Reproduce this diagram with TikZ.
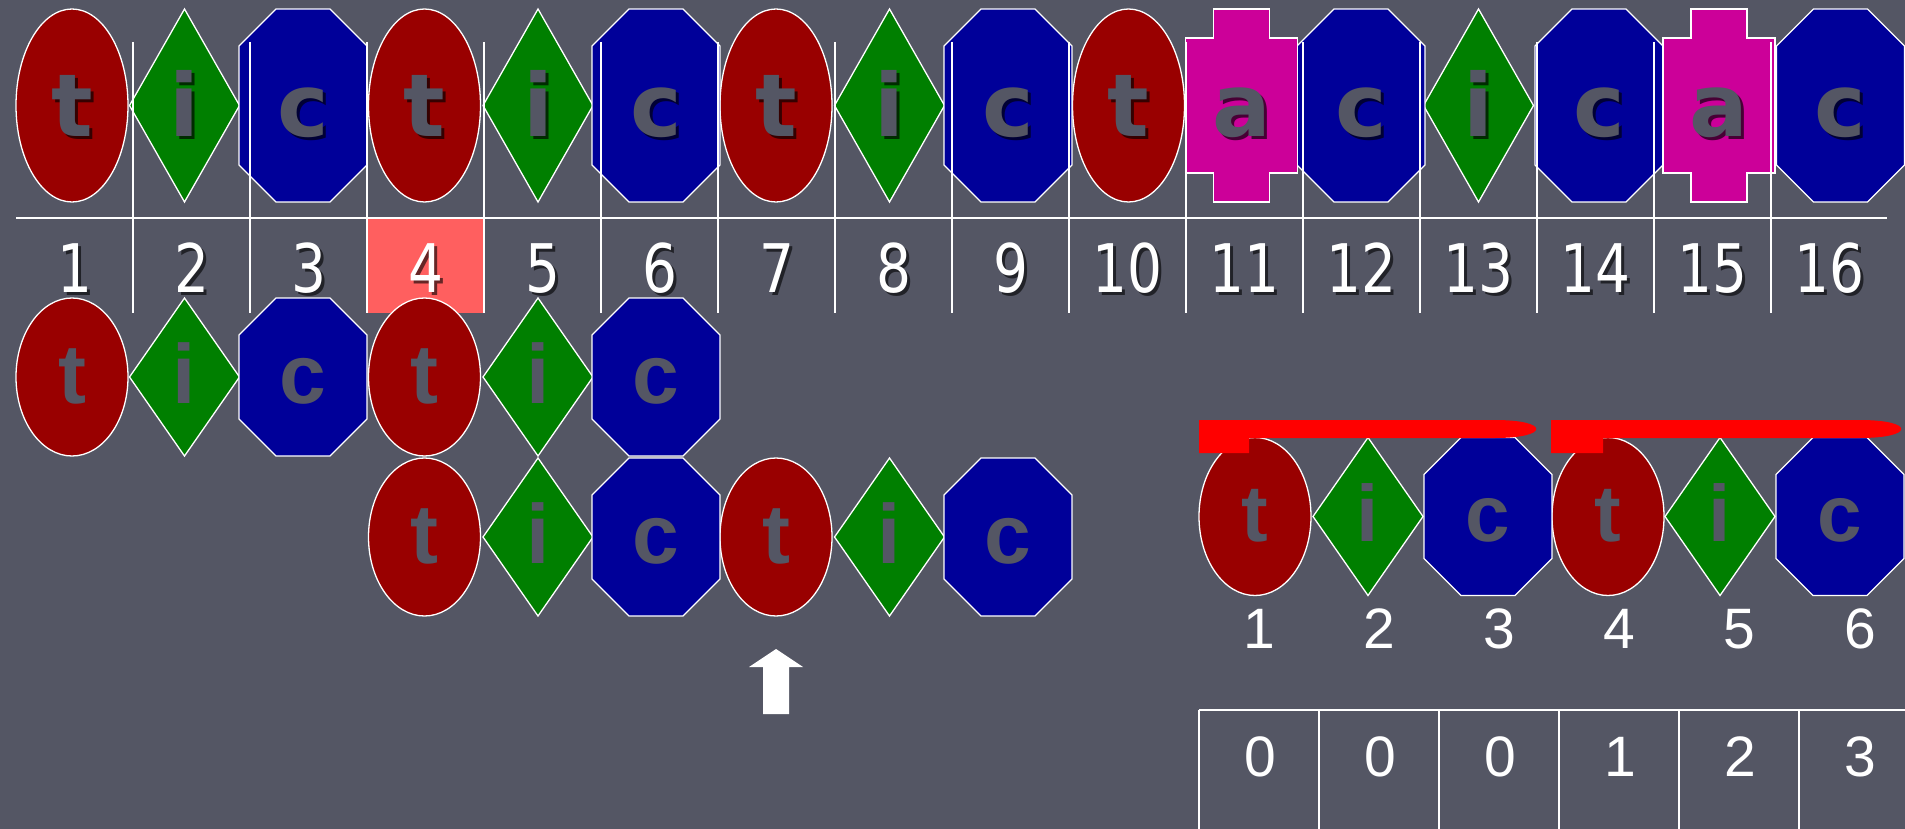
\documentclass[tikz,border=0pt]{standalone}
\usepackage{fontspec}
\setmainfont{Liberation Sans}
\newfontfamily\verdanaish{DejaVu Sans}
\newfontfamily\narrowish[FakeStretch=0.82]{DejaVu Sans}
\usetikzlibrary{shapes.geometric}
\definecolor{slate}{HTML}{545664}
\definecolor{tred}{HTML}{990000}
\definecolor{igreen}{HTML}{007F00}
\definecolor{cblue}{HTML}{000099}
\definecolor{amag}{HTML}{CC0099}
\definecolor{hilite}{HTML}{FF5F5F}
\definecolor{barred}{HTML}{FF0000}
\tikzset{
  shp/.style={draw=white, line width=1.3pt, inner sep=0pt, outer sep=0pt},
  tt/.style={shp, ellipse, fill=tred, minimum width=112pt},
  ii/.style={shp, diamond, fill=igreen, minimum width=110pt},
  cc/.style={rectangle, inner sep=0pt, outer sep=0pt, minimum width=128pt},
  aa/.style={rectangle, inner sep=0pt, outer sep=0pt, minimum width=112pt},
  tall/.style={minimum height=193pt},
  short/.style={minimum height=158pt},
  octo/.style={draw=white, line width=1.3pt, fill=cblue},
  cross/.style={draw=white, line width=1.3pt, fill=amag},
  toplet/.style={anchor=base, inner sep=0pt, text=slate, font=\verdanaish\bfseries\fontsize{87}{90}\selectfont},
  topshade/.style={toplet, text=black, opacity=0.65},
  midlet/.style={anchor=base, inner sep=0pt, text=slate, font=\bfseries\fontsize{84}{88}\selectfont},
  rowlet/.style={midlet, font=\bfseries\fontsize{80}{84}\selectfont},
  cellnum/.style={anchor=base, inner sep=0pt, text=white, font=\narrowish\fontsize{67}{70}\selectfont},
  cellshade/.style={cellnum, text=black, opacity=0.6},
  plainnum/.style={anchor=base, inner sep=0pt, text=white, font=\fontsize{57}{60}\selectfont},
  grid/.style={draw=white, line width=1.5pt},
  redbar/.style={fill=barred},
}
% octagon with 37pt corner cuts round a node
\newcommand{\octo}[1]{%
  \draw[octo] ([xshift=37pt]#1.north west) -- ([xshift=-37pt]#1.north east) -- ([yshift=-37pt]#1.north east)
    -- ([yshift=37pt]#1.south east) -- ([xshift=-37pt]#1.south east) -- ([xshift=37pt]#1.south west)
    -- ([yshift=37pt]#1.south west) -- ([yshift=-37pt]#1.north west) -- cycle;}
\def\toprow{72/tt/t, 184.5/ii/i, 303/cc/c, 424.5/tt/t, 538/ii/i, 656/cc/c, 776/tt/t, 889.5/ii/i,
  1008/cc/c, 1128.5/tt/t, 1241.5/aa/a, 1361/cc/c, 1478.5/ii/i, 1599/cc/c, 1719/aa/a, 1840.5/cc/c}
\def\rowa{72/tt/t, 184.5/ii/i, 303/cc/c, 424.5/tt/t, 538/ii/i, 656/cc/c}
\def\rowb{424.5/tt/t, 538/ii/i, 656/cc/c, 776/tt/t, 889.5/ii/i, 1008/cc/c}
\def\rowr{1255/tt/t, 1368/ii/i, 1488/cc/c, 1608/tt/t, 1720/ii/i, 1840/cc/c}

\begin{document}
\begin{tikzpicture}[x=1pt, y=-1pt]
  \useasboundingbox (0,0) rectangle (1905,829);
  \fill[slate] (0,0) rectangle (1905,829);

  % text row with cell numbers
  \fill[hilite] (367,219) rectangle (484,313);
  \foreach \x/\s/\l [count=\n] in \toprow
    \node[\s, tall] (top\n) at (\x,105.5) {};
  \foreach \n in {3,6,9,12,14,16}
    \octo{top\n}
  \foreach \n in {11,15}
    \draw[cross] (top\n.north) ++(-28pt,0) -- ++(56pt,0) -- ++(0,-29pt) -- ++(28pt,0) -- ++(0,-135pt)
      -- ++(-28pt,0) -- ++(0,-29pt) -- ++(-56pt,0) -- ++(0,29pt) -- ++(-28pt,0) -- ++(0,135pt)
      -- ++(28pt,0) -- cycle;
  \draw[grid] (16,218) -- (1887,218);
  \foreach \k in {1,...,15}
    \draw[grid] ({16+117*\k},42) -- ({16+117*\k},313);
  \foreach \x/\s/\l [count=\n] in \toprow {
    \node[topshade] (ts\n) at ({\x+3},140) {\l};
    \node[toplet] (tl\n) at (\x,137) {\l};
  }
  \foreach \n in {1,...,16} {
    \node[cellshade] (ns\n) at ({74.5+117*(\n-1)+3},295) {\n};
    \node[cellnum] (nm\n) at ({74.5+117*(\n-1)},292) {\n};
  }

  % pattern, first and shifted attempt
  \foreach \x/\s/\l [count=\n] in \rowa
    \node[\s, short] (pa\n) at (\x,377) {};
  \foreach \x/\s/\l [count=\n] in \rowb
    \node[\s, short] (pb\n) at (\x,537) {};
  \foreach \n in {3,6} {
    \octo{pa\n}
    \octo{pb\n}
  }
  \foreach \x/\s/\l [count=\n] in \rowa
    \node[midlet] (la\n) at (\x,403) {\l};
  \foreach \x/\s/\l [count=\n] in \rowb
    \node[midlet] (lb\n) at (\x,563) {\l};
  \fill[white] (763,714) -- (763,667) -- (749,667) -- (776,649) -- (803,667) -- (789,667) -- (789,714) -- cycle;

  % pattern with its table
  \foreach \x/\s/\l [count=\n] in \rowr
    \node[\s, short] (pr\n) at (\x,516.5) {};
  \octo{pr3}
  \octo{pr6}
  \foreach \x/\s/\l [count=\n] in \rowr {
    \node[rowlet] (lr\n) at (\x,541) {\l};
    \node[plainnum] (pn\n) at ({1259+120.2*(\n-1)},648) {\n};
  }
  \fill[redbar] (1199,420) -- (1495,420) .. controls (1550,420) and (1550,438) .. (1495,438)
    -- (1249,438) -- (1249,453) -- (1199,453) -- cycle;
  \fill[redbar] (1551,420) -- (1860,420) .. controls (1915,420) and (1915,438) .. (1860,438)
    -- (1603,438) -- (1603,453) -- (1551,453) -- cycle;
  \draw[grid] (1199,710) -- (1905,710);
  \foreach \k in {0,...,5}
    \draw[grid] ({1199+120*\k},710) -- ({1199+120*\k},829);
  \foreach \v [count=\n] in {0,0,0,1,2,3}
    \node[plainnum] (tv\n) at ({1260+120*(\n-1)},776) {\v};
\end{tikzpicture}
\end{document}
